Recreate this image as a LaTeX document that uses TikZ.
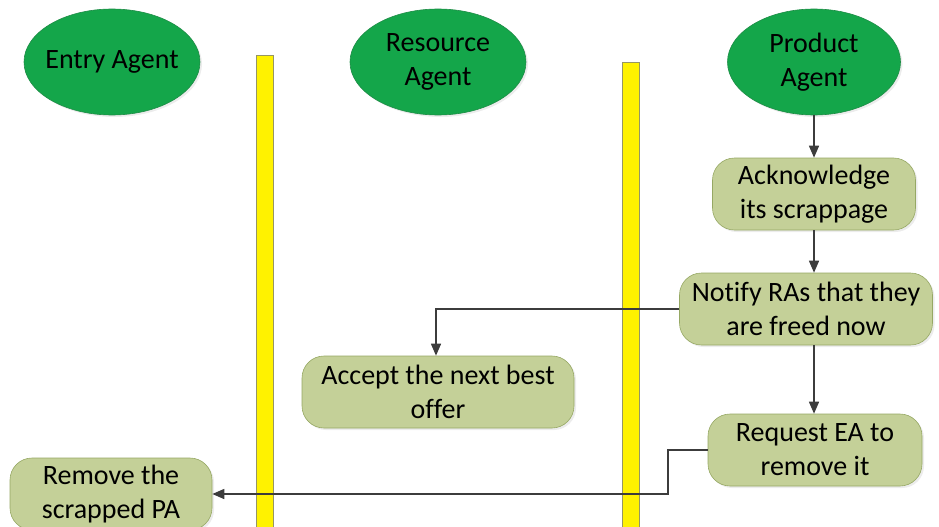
\documentclass[tikz,border=0pt]{standalone}
\usepackage{fontspec}
\setmainfont[Ligatures={NoCommon}]{Carlito}
\usetikzlibrary{arrows.meta,shadows,shapes.geometric}
\definecolor{agentgreen}{RGB}{20,166,74}
\definecolor{agentborder}{RGB}{30,140,70}
\definecolor{boxfill}{RGB}{196,208,152}
\definecolor{boxborder}{RGB}{150,168,100}
\definecolor{barborder}{RGB}{150,150,100}
\definecolor{linecol}{RGB}{60,60,60}
\begin{document}
\begin{tikzpicture}[x=1pt,y=-1pt,
  agent/.style={ellipse,fill=agentgreen,draw=agentborder,line width=0.6pt,minimum width=176pt,minimum height=106pt,inner xsep=-14pt,inner ysep=0pt,align=center,font=\fontsize{28}{34}\selectfont,text=black,drop shadow={opacity=0.15,shadow xshift=2pt,shadow yshift=-2pt}},
  actbox/.style={rectangle,rounded corners=22pt,fill=boxfill,draw=boxborder,line width=0.6pt,inner sep=0pt,align=center,font=\fontsize{28}{34}\selectfont,text=black,drop shadow={opacity=0.15,shadow xshift=2pt,shadow yshift=-2pt}},
  lane/.style={fill=yellow,draw=barborder,line width=0.6pt},
  flow/.style={draw=linecol,line width=1.5pt,-{Triangle[length=12pt,width=10pt]}}]
\useasboundingbox (0,0) rectangle (939,527);
% lanes
\filldraw[lane] (256,55) rectangle (273,530);
\filldraw[lane] (622,62) rectangle (639,530);
% agents
\node[agent] (ea) at (112,62) {Entry Agent};
\node[agent] (ra) at (438,62) {Resource\\Agent};
\node[agent,minimum width=173pt] (pa) at (814,62) {Product\\Agent};
% activities
\node[actbox,minimum width=203pt,minimum height=72pt] (ack) at (814,194) {Acknowledge\\its scrappage};
\node[actbox,minimum width=253pt,minimum height=72pt] (notify) at (806,309) {Notify RAs that they\\are freed now};
\node[actbox,minimum width=272pt,minimum height=72pt] (accept) at (438,392) {Accept the next best\\offer};
\node[actbox,minimum width=214pt,minimum height=72pt] (req) at (815,450) {Request EA to\\remove it};
\node[actbox,minimum width=202pt,minimum height=72pt] (rem) at (111,494) {Remove the\\scrapped PA};
% flows
\draw[flow] (pa.south) -- (ack.north);
\draw[flow] (ack.south) -- (notify.north -| ack.south);
\draw[flow] (notify.west) -| (accept.north -| 436,0);
\draw[flow] (notify.south -| ack.south) -- (req.north -| ack.south);
\coordinate (bend) at (668,494);
\draw[flow] (req.west) -| (bend) -- (rem.east);
\end{tikzpicture}
\end{document}
